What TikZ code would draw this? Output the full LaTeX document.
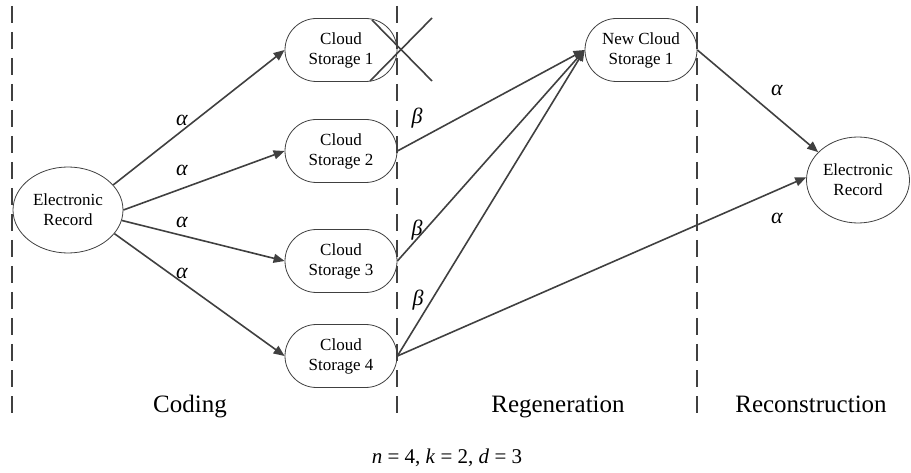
\documentclass[tikz,border=0pt]{standalone}
\usepackage{fontspec}
\setmainfont{Liberation Serif}
\usetikzlibrary{arrows.meta,shapes.misc,shapes.geometric}

\begin{document}
\begin{tikzpicture}[x=1pt,y=-1pt,
  every node/.style={font=\fontsize{17}{20}\selectfont, text=black},
  store/.style={draw=black!75, line width=0.8pt, rounded rectangle,
    minimum width=112pt, minimum height=63pt, inner sep=0pt, align=center},
  record/.style={draw=black!75, line width=0.8pt, ellipse,
    minimum height=86pt, inner sep=0pt, align=center},
  flow/.style={draw=black!75, line width=1.6pt, -{Triangle[length=11pt,width=9pt]}},
  sep/.style={draw=black!75, line width=1.8pt, dash pattern=on 17pt off 9pt},
  lab/.style={font=\fontsize{22}{26}\selectfont\itshape},
  phase/.style={font=\fontsize{25}{30}\selectfont, anchor=base}]

\useasboundingbox (0,0) rectangle (911,473);

% nodes
\node[record, minimum width=110pt] (src) at (68,210) {Electronic\\Record};
\node[store] (cs1) at (341,50)  {Cloud\\Storage 1};
\node[store] (cs2) at (341,151) {Cloud\\Storage 2};
\node[store] (cs3) at (341,261) {Cloud\\Storage 3};
\node[store] (cs4) at (341,356) {Cloud\\Storage 4};
\node[store] (ncs) at (641,50)  {New Cloud\\Storage 1};
\node[record, minimum width=103pt] (dst) at (858,180) {Electronic\\Record};

% phase separators
\draw[sep] (12,6) -- (12,413);
\draw[sep] (397,6) -- (397,413);
\draw[sep] (697,6) -- (697,413);

% failed storage node
\draw[draw=black!75, line width=1.6pt] (372,20) -- (432,81);
\draw[draw=black!75, line width=1.6pt] (370,81) -- (432,18);

% coding
\draw[flow] (src.29)  -- (cs1.west);
\draw[flow] (src.east) -- (cs2.west);
\draw[flow] (src.-11) -- (cs3.west);
\draw[flow] (src.-27) -- (cs4.west);

% regeneration
\draw[flow] (cs2.east) -- (ncs.west);
\draw[flow] (cs3.east) -- (ncs.west);
\draw[flow] (cs4.east) -- (ncs.west);

% reconstruction
\draw[flow] (ncs.east) -- (dst.145);
\draw[flow] (cs4.east) -- (dst.177);

% edge labels
\node[lab] (a1) at (182,120) {α};
\node[lab] (a2) at (182,170) {α};
\node[lab] (a3) at (182,222) {α};
\node[lab] (a4) at (182,273) {α};
\node[lab] (b1) at (417,118) {β};
\node[lab] (b2) at (417,230) {β};
\node[lab] (b3) at (418,300) {β};
\node[lab] (a5) at (777,90)  {α};
\node[lab] (a6) at (777,218) {α};

% phase names
\node[phase] (p1) at (190,412) {Coding};
\node[phase] (p2) at (558,412) {Regeneration};
\node[phase] (p3) at (811,412) {Reconstruction};

% parameters
\node[font=\fontsize{21}{25}\selectfont] (par) at (447,458)
  {\textit{n} = 4, \textit{k} = 2, \textit{d} = 3};
\end{tikzpicture}
\end{document}
